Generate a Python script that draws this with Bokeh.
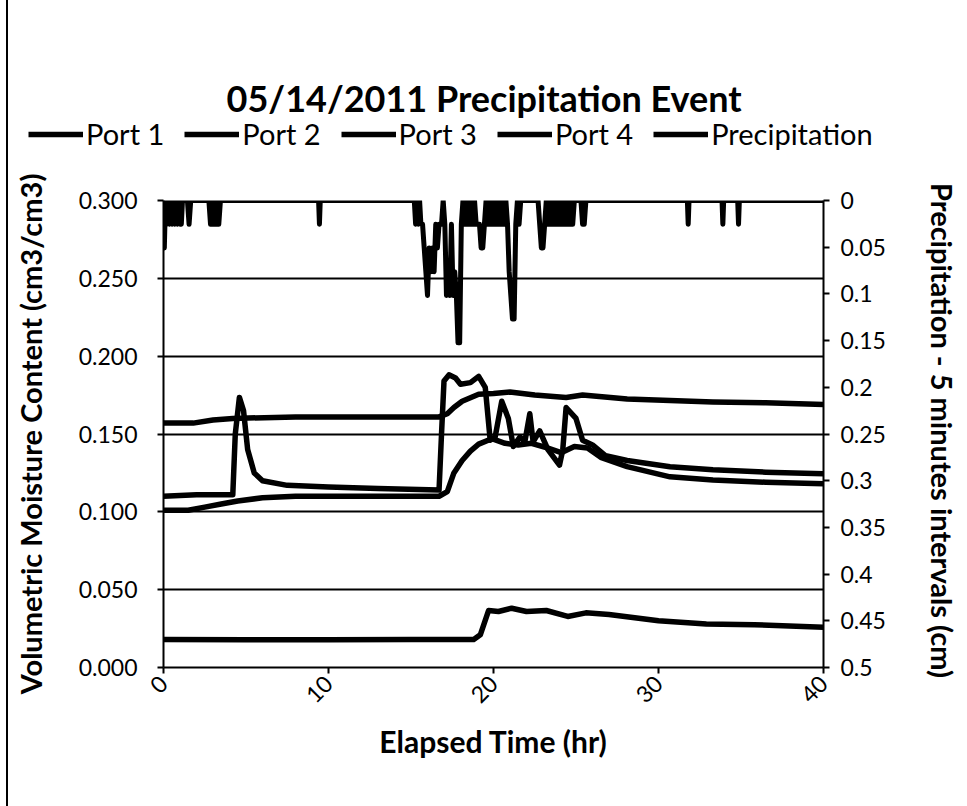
import math
from bokeh.plotting import figure
from bokeh.layouts import column
from bokeh.models import (Range1d, LinearAxis, FixedTicker, NumeralTickFormatter,
                          Legend, LegendItem, Label)
from bokeh.embed import file_html
from bokeh.resources import INLINE

# ---------------- data ----------------
title_text = "05/14/2011 Precipitation  Event"
x_ticks = [0, 10, 20, 30, 40]
left_ticks = [0.0, 0.05, 0.10, 0.15, 0.20, 0.25, 0.30]
right_ticks = [0.0, 0.05, 0.1, 0.15, 0.2, 0.25, 0.3, 0.35, 0.4, 0.45, 0.5]

port1_t = [0, 1.8, 3.0, 4.2, 8, 12, 16.7, 17.2, 17.6, 18.1, 19.1, 20.0, 21.0, 22.5,
           24.4, 25.4, 28.1, 30.7, 33.3, 36.5, 40]
port1_v = [0.157, 0.157, 0.159, 0.160, 0.161, 0.161, 0.161, 0.163, 0.167, 0.171, 0.1755,
           0.176, 0.177, 0.175, 0.1735, 0.175, 0.1725, 0.1715, 0.1705, 0.170, 0.169]

port2_t = [0, 2.0, 4.2, 4.35, 4.6, 4.85, 5.1, 5.5, 6.0, 7.5, 10, 13, 16.7, 16.85, 17.0,
           17.3, 17.7, 18.0, 18.6, 19.1, 19.5, 19.8, 20.1, 20.5, 20.9, 21.2, 21.6, 21.9,
           22.2, 22.4, 22.8, 23.3, 24.0, 24.2, 24.4, 25.0, 25.4, 26.0, 26.8, 28.1, 30.7,
           33.3, 36.5, 40]
port2_v = [0.110, 0.111, 0.111, 0.150, 0.1735, 0.165, 0.140, 0.125, 0.120, 0.117, 0.116,
           0.115, 0.114, 0.150, 0.184, 0.188, 0.186, 0.182, 0.183, 0.187, 0.180, 0.146,
           0.148, 0.171, 0.160, 0.142, 0.148, 0.145, 0.163, 0.145, 0.152, 0.140, 0.130,
           0.140, 0.167, 0.160, 0.146, 0.143, 0.136, 0.133, 0.129, 0.127, 0.1255, 0.1245]

port3_t = [0, 1.5, 2.5, 3.5, 4.5, 6.0, 8, 12, 16.7, 17.2, 17.6, 18.1, 18.6, 19.1, 19.9,
           20.7, 21.5, 22.3, 23.3, 24.1, 24.9, 25.7, 26.5, 28.1, 30.7, 33.3, 36.5, 40]
port3_v = [0.101, 0.101, 0.103, 0.105, 0.107, 0.109, 0.110, 0.110, 0.110, 0.113, 0.125,
           0.133, 0.139, 0.1435, 0.147, 0.144, 0.143, 0.144, 0.141, 0.138, 0.142, 0.141,
           0.135, 0.129, 0.1225, 0.1205, 0.119, 0.118]

port4_t = [0, 5, 10, 15, 18.8, 19.2, 19.7, 20.3, 21.1, 22.0, 23.2, 24.5, 25.6, 27.0,
           30.0, 32.9, 35.8, 40]
port4_v = [0.018, 0.0178, 0.0178, 0.018, 0.018, 0.021, 0.0366, 0.036, 0.0381, 0.036,
           0.0366, 0.0328, 0.0351, 0.034, 0.030, 0.028, 0.0275, 0.0259]

precip_t = [0.0, 0.05, 0.12, 0.2, 0.28, 0.36, 0.44, 0.52, 0.6, 0.68, 0.76, 0.84, 0.92,
            1.0, 1.08, 1.15, 1.45, 1.55, 1.65, 2.75, 2.85, 2.95, 3.05, 3.15, 3.25, 3.35,
            3.45, 9.4, 9.45, 9.5, 15.2, 15.28, 15.36, 15.44, 15.52, 15.6, 15.7, 15.8,
            15.9, 16.0, 16.1, 16.2, 16.3, 16.4, 16.5, 16.6, 16.7, 16.85, 16.95, 17.05,
            17.15, 17.25, 17.35, 17.45, 17.55, 17.65, 17.75, 17.85, 17.95, 18.05, 18.15,
            18.25, 18.35, 18.45, 18.55, 18.65, 18.75, 18.85, 18.95, 19.05, 19.15, 19.25,
            19.35, 19.45, 19.55, 19.65, 19.75, 19.85, 19.95, 20.05, 20.15, 20.25, 20.35,
            20.45, 20.55, 20.65, 20.75, 20.85, 20.95, 21.05, 21.15, 21.25, 21.35, 21.45,
            21.55, 21.65, 22.7, 22.8, 22.9, 23.0, 23.1, 23.2, 23.3, 23.4, 23.5, 23.6,
            23.7, 23.8, 23.9, 24.0, 24.1, 24.2, 24.3, 24.4, 24.5, 24.6, 24.7, 24.8, 24.9,
            25.3, 25.4, 25.5, 25.6, 31.75, 31.8, 31.85, 33.85, 33.9, 33.95, 34.8, 34.85,
            34.9, 40.0]
precip_v = [0, 0.0508, 0, 0.0254, 0, 0.0254, 0, 0.0254, 0, 0.0254, 0, 0.0254, 0,
            0.0254, 0.0254, 0, 0, 0.0254, 0, 0, 0.0254, 0, 0.0254, 0, 0.0254, 0.0254,
            0, 0, 0.0254, 0, 0, 0.0254, 0, 0.0254, 0, 0.0254, 0.0254, 0.0508,
            0.0762, 0.1016, 0.0508, 0.0762, 0.0508, 0.0762, 0.0254, 0.0508, 0.0254, 0.0254, 0, 0.0254,
            0.1016, 0.0762, 0.1016, 0.0254, 0.1016, 0.0762, 0.1016, 0.1524, 0.1524, 0.0254, 0,
            0.0254, 0, 0.0254, 0.0254, 0, 0.0254, 0, 0.0254, 0.0254, 0.0254, 0.0508,
            0.0508, 0.0254, 0, 0.0254, 0, 0.0254, 0, 0.0254, 0, 0.0254, 0,
            0.0254, 0, 0.0254, 0, 0.0254, 0.0762, 0.1016, 0.127, 0.127, 0.0254, 0,
            0.0254, 0, 0, 0.0254, 0.0508, 0.0508, 0.0254, 0, 0.0254, 0, 0.0254, 0,
            0.0254, 0, 0.0254, 0, 0.0254, 0, 0.0254, 0, 0.0254, 0, 0.0254, 0.0254, 0,
            0, 0.0254, 0.0254, 0, 0, 0.0254, 0, 0, 0.0254, 0, 0, 0.0254,
            0, 0]

series_names = ["Port 1", "Port 2", "Port 3", "Port 4", "Precipitation"]

FONT = "Lato"
W = 958
TOP_H = 170

# ---------------- header figure: title + legend ----------------
head = figure(width=W, height=TOP_H, output_backend="svg", toolbar_location=None,
              x_range=Range1d(0, W), y_range=Range1d(TOP_H, 0),
              min_border=0, min_border_left=0, min_border_right=0,
              min_border_top=0, min_border_bottom=0)
head.axis.visible = False
head.grid.visible = False
head.outline_line_color = None
head.background_fill_color = "white"
head.border_fill_color = "white"

head.add_layout(Label(x=480, y=97, text=title_text, text_align="center",
                      text_baseline="middle", text_font=FONT, text_font_size="36px",
                      text_font_style="bold", text_color="black"))

# legend keys (placed off-screen so only their legend swatches show)
dummy = [head.line([-50, -40], [-50, -50], line_color="black", line_width=5.5)
         for _ in series_names]
legend = Legend(items=[LegendItem(label=n, renderers=[r]) for n, r in zip(series_names, dummy)],
                orientation="horizontal", location=(20, 19),
                glyph_width=55, glyph_height=30, label_height=30, label_standoff=3,
                spacing=20, padding=0, margin=0,
                border_line_alpha=0, background_fill_alpha=0,
                label_text_font=FONT, label_text_font_size="29px",
                label_text_color="black")
head.add_layout(legend)

# ---------------- main figure ----------------
p = figure(width=W, height=806 - TOP_H, output_backend="svg", toolbar_location=None,
           x_range=Range1d(0, 40), y_range=Range1d(0, 0.3),
           min_border_left=155, min_border_right=143, min_border_top=200 - TOP_H,
           min_border_bottom=139)
p.background_fill_color = "white"
p.border_fill_color = "white"
p.outline_line_color = None

# keep the header's frame independent of the main plot's frame
for fig in (head, p):
    if hasattr(fig, "frame_align"):
        fig.frame_align = False

p.extra_y_ranges = {"precip": Range1d(start=0.5, end=0.0)}

for t, v in [(port1_t, port1_v), (port2_t, port2_v), (port3_t, port3_v), (port4_t, port4_v)]:
    p.line(t, v, line_color="black", line_width=5.5, line_join="round", line_cap="round")
p.line(precip_t, precip_v, y_range_name="precip", line_color="black", line_width=5,
       line_join="round", line_cap="round")

def style_axis(ax, label_size="23px", title_size="30px"):
    ax.major_label_text_font = FONT
    ax.major_label_text_font_size = label_size
    ax.major_label_text_color = "black"
    ax.axis_label_text_font = FONT
    ax.axis_label_text_font_size = title_size
    ax.axis_label_text_font_style = "bold"
    ax.axis_label_text_color = "black"
    ax.axis_line_color = "black"
    ax.axis_line_width = 2
    ax.major_tick_line_color = "black"
    ax.major_tick_line_width = 2
    ax.major_tick_out = 6
    ax.major_tick_in = 0
    ax.minor_tick_line_color = None

yl = p.yaxis[0]
yl.ticker = FixedTicker(ticks=left_ticks)
yl.formatter = NumeralTickFormatter(format="0.000")
yl.axis_label = "Volumetric Moisture Content (cm3/cm3)"
style_axis(yl, title_size="29px")
yl.major_label_standoff = 20
yl.axis_label_standoff = 28

xa = p.xaxis[0]
xa.ticker = FixedTicker(ticks=x_ticks)
xa.axis_label = "Elapsed Time (hr)"
style_axis(xa, title_size="30px")
xa.major_label_orientation = math.pi / 4
xa.major_label_standoff = 6
xa.axis_label_standoff = 10

yr = LinearAxis(y_range_name="precip", ticker=FixedTicker(ticks=right_ticks),
                formatter=NumeralTickFormatter(format="0.[00]"),
                axis_label="Precipitation  - 5 minutes intervals (cm)")
style_axis(yr, title_size="29px")
yr.major_label_standoff = 11
yr.axis_label_standoff = 36
p.add_layout(yr, "right")

p.xgrid.visible = False
p.ygrid.ticker = FixedTicker(ticks=left_ticks)
p.ygrid.grid_line_color = "black"
p.ygrid.grid_line_width = 2

layout = column(head, p, spacing=0)
layout.styles = {"margin-left": "6px", "border-left": "2px solid black"}

open("out.html", "w").write(file_html(layout, INLINE))
